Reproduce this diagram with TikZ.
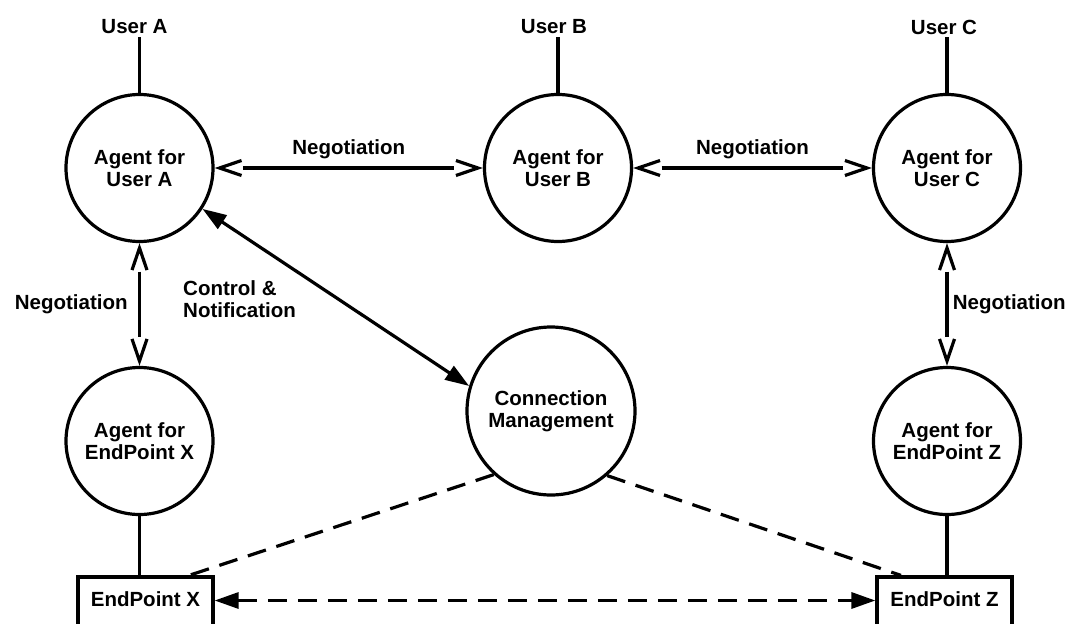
\documentclass[tikz,border=0pt]{standalone}
\usepackage{fontspec}
\setmainfont{Liberation Sans}
\usetikzlibrary{positioning}
\usetikzlibrary{calc}
\usetikzlibrary{arrows.meta}

\begin{document}
\begin{tikzpicture}[x=1pt,y=-1pt,
		every node/.style={font=\fontsize{20.5}{22}\selectfont\bfseries},
		agent/.style={draw,circle,line width=3.2pt,minimum size=147pt,inner sep=0pt,align=center},
		endbox/.style={draw,rectangle,line width=3.2pt,minimum width=135pt,text height=29pt,text depth=30pt,inner sep=0pt,anchor=base},
		user/.style={inner sep=3pt},
		wire/.style={line width=3.2pt},
		negarrow/.style={line width=3.2pt,{Straight Barb[length=22pt,width=15pt] .}-{. Straight Barb[length=22pt,width=15pt]}},
		ctrlarrow/.style={line width=3.2pt,{Triangle[length=24pt,width=16pt]}-{Triangle[length=24pt,width=16pt]}},
		dashline/.style={line width=3.2pt,dash pattern=on 19pt off 11pt},
		dasharrow/.style={dashline,{Triangle[length=24pt,width=16pt]}-{Triangle[length=24pt,width=16pt]}}]
	\path[use as bounding box,clip] (0,0) rectangle (1074,624);

	% Users
	\node[user] (userA) at (134.5,27) {User A};
	\node[user] (userB) at (554,27) {User B};
	\node[user] (userC) at (944,27) {User C};

	% Agents
	\node[agent] (agA) at (139.5,168) {Agent for\\User A};
	\node[agent] (agB) at (558,168) {Agent for\\User B};
	\node[agent] (agC) at (947,168) {Agent for\\User C};
	\node[agent] (agX) at (139.5,441) {Agent for\\EndPoint X};
	\node[agent] (agZ) at (947,441) {Agent for\\EndPoint Z};
	\node[agent,minimum size=168pt] (cm) at (551,411) {Connection\\Management};

	% End points
	\node[endbox] (epX) at (145.5,606) {EndPoint X};
	\node[endbox] (epZ) at (944.5,606) {EndPoint Z};

	% Plain links
	\draw[wire] (agA.north) -- (agA.north |- userA.south);
	\draw[wire] (agB.north) -- (agB.north |- userB.south);
	\draw[wire] (agC.north) -- (agC.north |- userC.south);
	\draw[wire] (agX.south) -- (agX.south |- epX.north);
	\draw[wire] (agZ.south) -- (agZ.south |- epZ.north);

	% Negotiation
	\draw[negarrow] (agA) -- (agB) node[midway,above=4pt] {Negotiation};
	\draw[negarrow] (agB) -- (agC) node[midway,above=4pt] {Negotiation};
	\draw[negarrow] (agA) -- (agX) node[midway,left=7pt] {Negotiation};
	\draw[negarrow] (agC) -- (agZ) node[midway,right=1pt] {Negotiation};

	% Control
	\draw[ctrlarrow] (agA.-33) -- (cm.163);
	\node[anchor=west,align=left,inner sep=0pt] (ctrl) at (183,299) {Control \&\\Notification};

	% Connections
	\draw[dashline] (cm.-132) -- ($(epX.north east)!0.37!(epX.north)$);
	\draw[dashline] (cm.-49) -- ($(epZ.north west)!0.37!(epZ.north)$);
	\draw[dasharrow] ([yshift=6pt]epX.east) -- ([yshift=6pt]epZ.west);
\end{tikzpicture}
\end{document}
